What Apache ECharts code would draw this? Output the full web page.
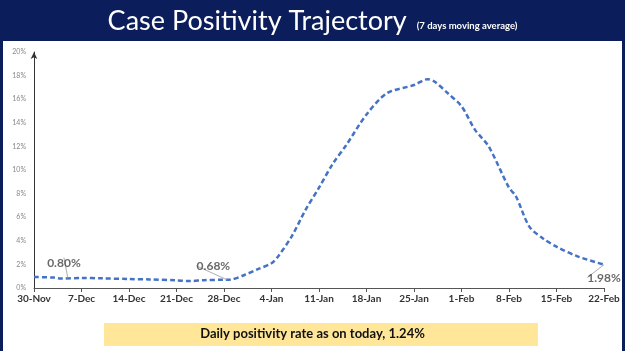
<!DOCTYPE html>
<html>
<head>
<meta charset="utf-8">
<script src="https://cdn.jsdelivr.net/npm/echarts@6/dist/echarts.min.js"></script>
<style>
  html, body { margin: 0; padding: 0; background: #0b1d5a; }
  #chart { width: 625px; height: 351px; }
</style>
</head>
<body>
<div id="chart"></div>
<script>
// weekly tick labels (day 0 = 30-Nov)
const tickLabels = ['30-Nov', '7-Dec', '14-Dec', '21-Dec', '28-Dec', '4-Jan', '11-Jan',
  '18-Jan', '25-Jan', '1-Feb', '8-Feb', '15-Feb', '22-Feb'];
const yTicks = [0, 2, 4, 6, 8, 10, 12, 14, 16, 18, 20];

// points: day offset from 30-Nov and 7-day avg positivity (%)
const days = [0, 3, 4, 7, 10, 14, 17, 21, 23, 25, 28, 29, 31, 33, 35, 36, 38, 40, 42, 44, 46,
  49, 52, 56, 58, 59, 61, 63, 65, 67, 70, 71, 73, 75, 77, 80, 84];
const rate = [0.93, 0.88, 0.80, 0.85, 0.82, 0.76, 0.73, 0.65, 0.59, 0.66, 0.70, 0.72, 1.1, 1.6, 2.1,
  2.7, 4.4, 6.6, 8.5, 10.5, 12.1, 14.7, 16.5, 17.2, 17.7, 17.5, 16.5, 15.4, 13.4, 12.0, 8.5, 7.8,
  5.2, 4.2, 3.5, 2.7, 1.98];

// annotated values
const noteDays = [5, 28.5, 84];
const noteValues = [0.80, 0.68, 1.98];

const chart = echarts.init(document.getElementById('chart'));

const noteOffsets = [[-4, -15], [-14, -14], [0, 13]];

chart.setOption({
  animation: false,
  backgroundColor: '#0b1d5a',
  graphic: [
    { type: 'rect', shape: { x: 3, y: 41, width: 619, height: 310 }, style: { fill: '#ffffff' }, z: -10 },
    { type: 'rect', shape: { x: 104, y: 323, width: 434, height: 23 }, style: { fill: '#ffe699' }, z: -5 },
    {
      type: 'text', left: 'center', top: 327,
      style: { text: 'Daily positivity rate as on today, 1.24%', font: 'bold 13px Lato', fill: '#111' }
    }
  ],
  title: {
    left: 'center',
    top: 3,
    text: '{a|Case Positivity Trajectory}  {b|(7 days moving average)}',
    textStyle: {
      rich: {
        a: { fontFamily: 'Lato', fontSize: 27, color: '#ffffff', fontWeight: 'normal' },
        b: { fontFamily: 'Lato', fontSize: 9.5, color: '#ffffff', fontWeight: 'bold', padding: [8, 0, 0, 0] }
      }
    }
  },
  grid: { left: 34, right: 21, top: 52, bottom: 63 },
  xAxis: {
    type: 'value',
    min: 0,
    max: 84,
    interval: 7,
    splitLine: { show: false },
    axisLine: { lineStyle: { color: '#555', width: 1 } },
    axisTick: { show: true, length: 4, lineStyle: { color: '#555' } },
    axisLabel: {
      formatter: v => tickLabels[v / 7],
      fontFamily: 'Lato', fontWeight: 'bold', fontSize: 10, color: '#333', margin: 6
    }
  },
  yAxis: {
    type: 'value',
    min: yTicks[0],
    max: yTicks[yTicks.length - 1],
    interval: 2,
    splitLine: { show: false },
    axisLine: { show: true, lineStyle: { color: '#333', width: 1 }, symbol: ['none', 'arrow'], symbolSize: [5, 7] },
    axisTick: { show: false },
    axisLabel: { formatter: '{value}%', fontFamily: 'Lato', fontSize: 7, color: '#888', margin: 8 }
  },
  series: [
    {
      type: 'line',
      data: days.map((d, i) => [d, rate[i]]),
      smooth: 0.3,
      showSymbol: false,
      lineStyle: { color: '#4472c4', width: 2.5, type: [5, 3] },
      z: 2
    },
    {
      type: 'scatter',
      data: noteDays.map((d, i) => [d, noteValues[i]]),
      symbolSize: 0,
      label: {
        show: true,
        position: 'inside',
        formatter: p => p.value[1].toFixed(2) + '%',
        fontFamily: 'Lato', fontWeight: 'bold', fontSize: 12, color: '#444'
      },
      labelLayout: p => ({ dx: noteOffsets[p.dataIndex][0], dy: noteOffsets[p.dataIndex][1] }),
      labelLine: { show: true, lineStyle: { color: '#999', width: 0.8 } },
      z: 3
    }
  ]
});
</script>
</body>
</html>
